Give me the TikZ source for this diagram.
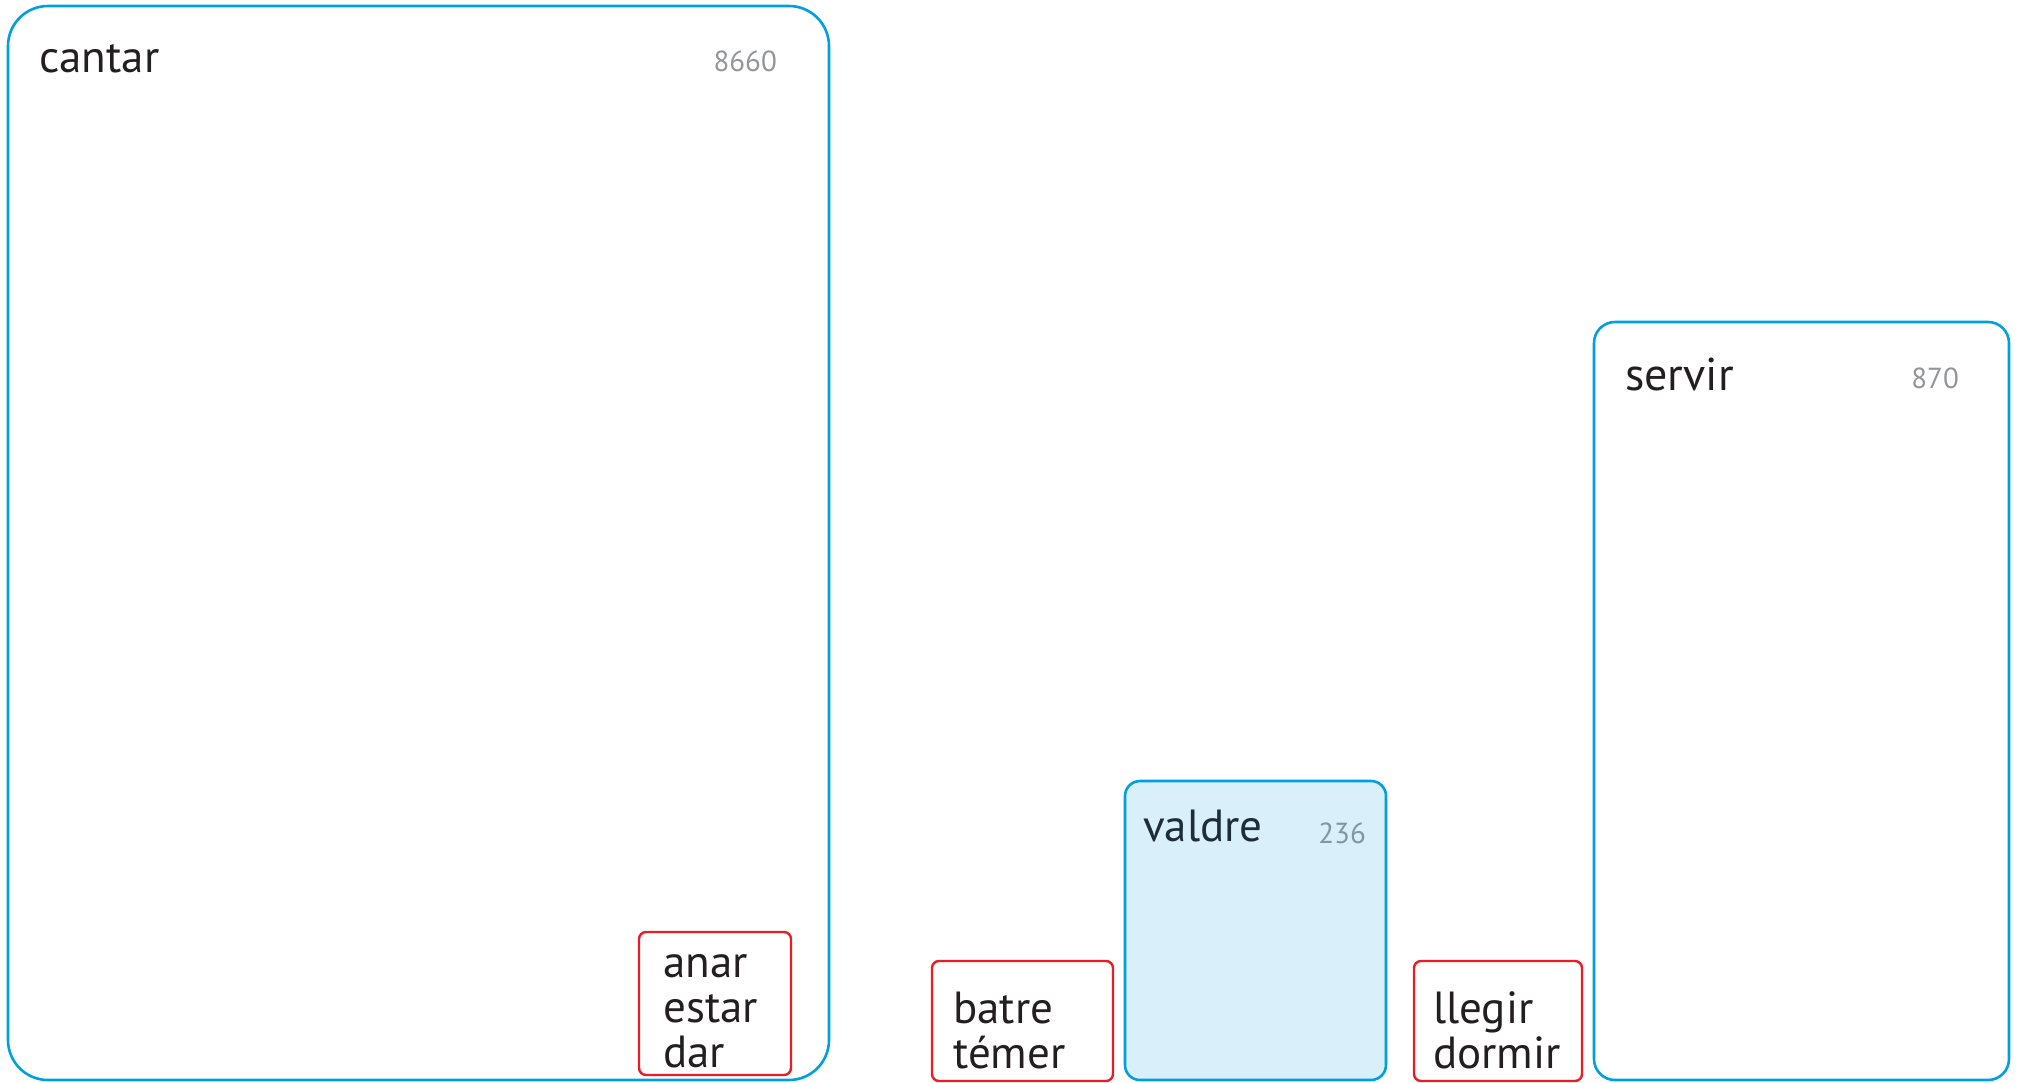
\documentclass[tikz,border=0pt]{standalone}
\usepackage{fontspec}
\setmainfont{PT Sans}
\definecolor{boxblue}{HTML}{009FDF}
\definecolor{boxred}{HTML}{ED1C24}
\definecolor{numgray}{HTML}{939598}
\definecolor{inkblack}{HTML}{231F20}
\definecolor{paleblue}{HTML}{D9EFF9}
\definecolor{inkblue}{HTML}{1E2D3A}
\definecolor{numblue}{HTML}{7E97A5}
\tikzset{
  verbbox/.style={draw=boxblue, line width=2.6pt, anchor=north west, inner sep=0pt, outer sep=0pt},
  irregbox/.style={draw=boxred, line width=2.4pt, rounded corners=7pt, anchor=north west, inner sep=0pt, outer sep=0pt},
  verblabel/.style={text=inkblack, anchor=base west, inner sep=0pt, font=\fontsize{45}{45}\selectfont},
  countlabel/.style={text=numgray, anchor=base east, inner sep=0pt, font=\fontsize{29}{30}\selectfont},
  wordlist/.style={text=inkblack, anchor=base west, inner sep=0pt, align=left, font=\fontsize{45}{45}\selectfont},
}
\begin{document}
\begin{tikzpicture}[x=1pt,y=-1pt]
  \clip (0,0) rectangle (2019,1082);
  % big group
  \node[verbbox, rounded corners=40pt, minimum width=821pt, minimum height=1074pt] (cantar) at (8,6) {};
  \node[verblabel] (cantarname) at (39,72) {cantar};
  \node[countlabel] (cantarcount) at (777,71) {8660};
  % irregulars inside (base = last line)
  \node[irregbox, minimum width=152pt, minimum height=143pt] (irrega) at (639,932) {};
  \node[wordlist] (irregalist) at (663,1067) {anar\\estar\\dar};
  % second irregular group
  \node[irregbox, minimum width=181pt, minimum height=120pt] (irregb) at (932,961) {};
  \node[wordlist] (irregblist) at (953,1068) {batre\\témer};
  % small group, filled
  \node[verbbox, rounded corners=15pt, fill=paleblue, minimum width=261pt, minimum height=299pt] (valdre) at (1125,781) {};
  \node[verblabel, text=inkblue] (valdrename) at (1143,841) {valdre};
  \node[countlabel, text=numblue] (valdrecount) at (1366,843) {236};
  % third irregular group
  \node[irregbox, minimum width=168pt, minimum height=120pt] (irregc) at (1414,961) {};
  \node[wordlist] (irregclist) at (1433,1068) {llegir\\dormir};
  % right group
  \node[verbbox, rounded corners=21pt, minimum width=415pt, minimum height=758pt] (servir) at (1594,322) {};
  \node[verblabel, font=\fontsize{46}{46}\selectfont] (servirname) at (1625,390) {servir};
  \node[countlabel] (servircount) at (1959,388) {870};
\end{tikzpicture}
\end{document}
